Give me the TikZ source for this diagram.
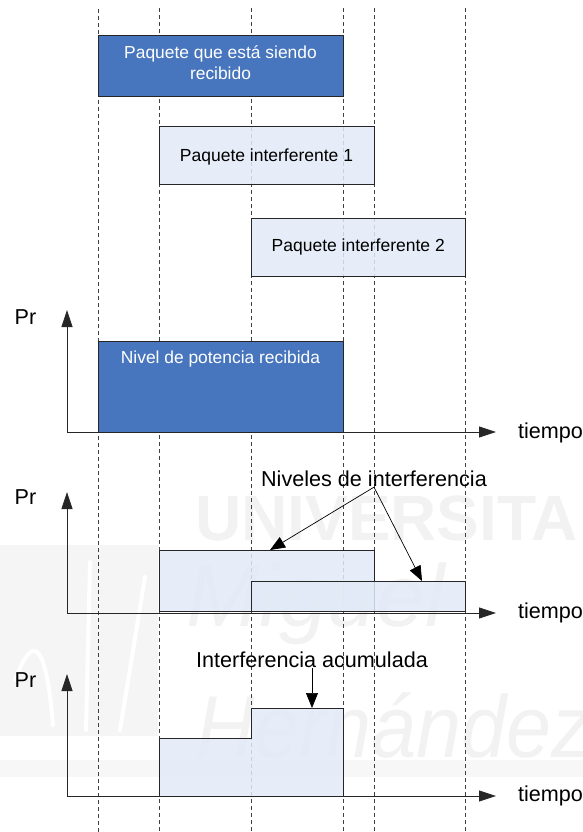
\documentclass[tikz,border=0pt]{standalone}
\usepackage{fontspec}
\setmainfont{Liberation Sans}
\usetikzlibrary{arrows.meta}
\definecolor{azulpaq}{HTML}{4876BE}
\definecolor{clarointerf}{HTML}{E2EAF7}
\tikzset{
  guia/.style={dash pattern=on 4pt off 3pt,line width=0.7pt,black!75},
  paqrecibido/.style={draw=black!85,line width=0.9pt,fill=azulpaq,inner sep=0pt},
  txtblanco/.style={inner sep=0pt,text=white,align=center,font=\fontsize{17.4}{21}\selectfont},
  paqinterf/.style={draw=black!85,line width=0.9pt,fill=clarointerf,fill opacity=.85,text opacity=1,inner sep=0pt,align=center,font=\fontsize{17.5}{21}\selectfont},
  nivel/.style={draw=black!85,line width=0.9pt,fill=clarointerf,fill opacity=.85},
  eje/.style={line width=0.8pt,black!85,-{Triangle[length=17pt,width=11pt]}},
  flecha/.style={line width=0.7pt,-{Triangle[length=15pt,width=12pt]}},
  etiq/.style={inner sep=0pt,font=\fontsize{21.6}{24}\selectfont},
  marca/.style={inner sep=0pt,text=black!5},
  trazo/.style={white,line width=4pt,line cap=round}
}
\begin{document}
\begin{tikzpicture}[x=1pt,y=-1pt]
\useasboundingbox (0,0) rectangle (583,832);

\fill[black!4] (0,545) rectangle (158,736);
\fill[black!3] (0,760) rectangle (583,777);
\draw[trazo] (15,680) .. controls (30,640) and (45,630) .. (53,725);
\draw[trazo] (90,562) -- (86,730);
\draw[trazo] (145,577) -- (120,730);
\node[marca,font=\fontsize{64}{64}\bfseries\selectfont,anchor=west] (univ) at (195,518) {UNIVERSITA};
\node[marca,font=\fontsize{88}{88}\itshape\selectfont,anchor=west] (miguel) at (186,604) {Miguel};
\node[marca,font=\fontsize{88}{88}\itshape\selectfont,xscale=.92,anchor=west] (hernandez) at (196,726) {Hernández};

\coordinate (g1a) at (98,9);
\coordinate (g1b) at (98,832);
\coordinate (g2a) at (159,8);
\coordinate (g2b) at (159,832);
\coordinate (g3a) at (251,8);
\coordinate (g3b) at (251,832);
\coordinate (g4a) at (343,8);
\coordinate (g4b) at (343,832);
\coordinate (g5a) at (374,8);
\coordinate (g5b) at (374,832);
\coordinate (g6a) at (465.5,8);
\coordinate (g6b) at (465.5,832);
\draw[guia] (g1a) -- (g1b);
\draw[guia] (g2a) -- (g2b);
\draw[guia] (g3a) -- (g3b);
\draw[guia] (g4a) -- (g4b);
\draw[guia] (g5a) -- (g5b);
\draw[guia] (g6a) -- (g6b);

\node[paqrecibido,minimum width=245pt,minimum height=61pt] (recibido) at (220.5,65.5) {};
\node[txtblanco] (recibidotxt) at (220.5,62.5) {Paquete que está siendo\\recibido};
\node[paqinterf,text depth=0pt,minimum width=215pt,minimum height=58pt] (interf1) at (266.5,155) {Paquete interferente 1};
\node[paqinterf,minimum width=214.5pt,minimum height=58pt] (interf2) at (358.25,247) {Paquete interferente 2};

\node[paqrecibido,minimum width=245pt,minimum height=91pt] (potencia) at (220.5,386.5) {};
\node[txtblanco] (potenciatxt) at (220.5,359) {Nivel de potencia recibida};

\draw[nivel] (159,611) -- (159,550) -- (374,550) -- (374,611) -- cycle;
\draw[nivel] (251,611) -- (251,581) -- (465.5,581) -- (465.5,611) -- cycle;
\draw[nivel] (159,796) -- (159,738) -- (251,738) -- (251,708) -- (343,708) -- (343,796) -- cycle;

\coordinate (o1) at (67,432);
\coordinate (y1) at (67,310);
\coordinate (x1) at (496,432);
\coordinate (o2) at (67,613);
\coordinate (y2) at (67,492);
\coordinate (x2) at (496,613);
\coordinate (o3) at (67,796);
\coordinate (y3) at (67,674);
\coordinate (x3) at (496,796);
\draw[eje] (o1) -- (y1);
\draw[eje] (o1) -- (x1);
\draw[eje] (o2) -- (y2);
\draw[eje] (o2) -- (x2);
\draw[eje] (o3) -- (y3);
\draw[eje] (o3) -- (x3);

\node[etiq] (pr1) at (25.5,317) {Pr};
\node[etiq] (pr2) at (25.5,497) {Pr};
\node[etiq] (pr3) at (25.5,680) {Pr};
\node[etiq] (tiempo1) at (550.5,433) {tiempo};
\node[etiq] (tiempo2) at (550.5,613) {tiempo};
\node[etiq] (tiempo3) at (550.5,796) {tiempo};

\node[etiq] (niveles) at (374,479) {Niveles de interferencia};
\node[etiq] (acumulada) at (312,660) {Interferencia acumulada};
\coordinate (n1) at (270,550);
\coordinate (n2) at (422,581);
\coordinate (ac) at (312,708);
\draw[flecha] (niveles.south) -- (n1);
\draw[flecha] (niveles.south) -- (n2);
\draw[flecha] (acumulada.south) -- (ac);
\end{tikzpicture}
\end{document}
